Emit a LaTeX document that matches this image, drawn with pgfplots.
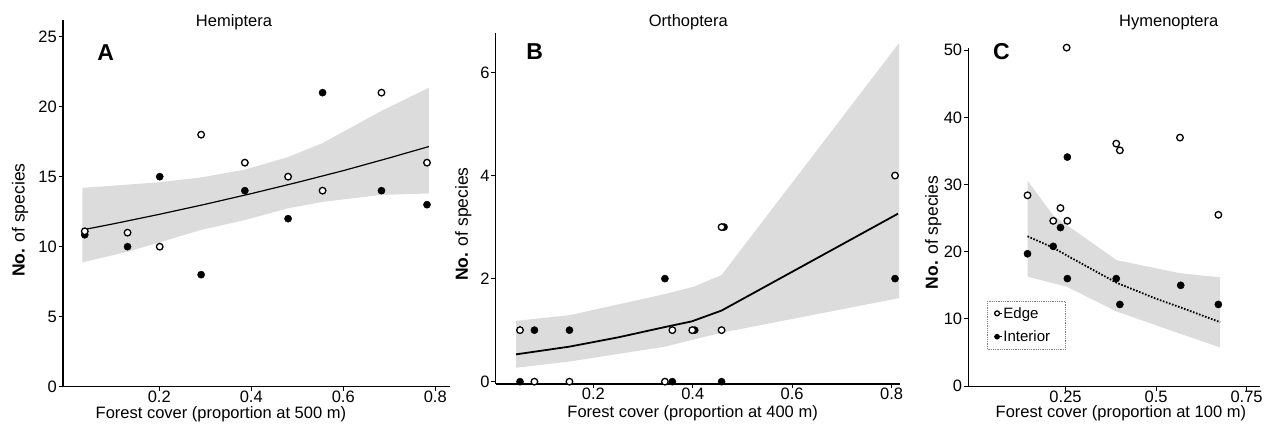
\documentclass[border=0pt]{standalone}
\usepackage{fontspec}
\setmainfont{Liberation Sans}
\usepackage{pgfplots}
\pgfplotsset{compat=1.18}
\definecolor{band}{RGB}{220,220,220}
\pgfplotsset{
  panel/.style={
    scale only axis,
    clip=false,
    axis x line*=bottom,
    axis y line*=left,
    axis line style={-, line width=1.4pt, black},
    tick align=outside,
    major tick length=4.5pt,
    tick style={line width=1pt, black},
    /pgf/number format/assume math mode=true,
    ticklabel style={font=\fontsize{16.5}{18}\selectfont},
    yticklabel style={inner sep=1.5pt},
    xticklabel style={inner sep=0.8pt, yshift=1.5pt},
    label style={font=\fontsize{16.5}{18}\selectfont},
    ylabel style={font=\fontsize{17.5}{19}\selectfont, rotate=0, anchor=center},
    xlabel style={anchor=center, inner sep=0pt},
  },
  edgept/.style={only marks, mark=*, mark size=3.3pt, mark options={solid, fill=white, draw=black, line width=1.3pt}},
  intpt/.style={only marks, mark=*, mark size=3.6pt, mark options={solid, fill=black, draw=black}},
}
\begin{document}
\begin{tikzpicture}
\useasboundingbox (0,0) rectangle (1276pt,430pt);

% ---------------- A ----------------
\begin{axis}[panel,
  at={(63pt,43.3pt)}, anchor=south west,
  width=387pt, height=366.7pt,
  xmin=-0.0093, xmax=0.832, ymin=0, ymax=26.19,
  xtick={0.2,0.4,0.6,0.8}, xticklabels={0.2,0.4,0.6,0.8},
  ytick={0,5,10,15,20,25},
  xlabel={Forest cover (proportion at 500 m)},
  xlabel style={at={(axis description cs:0.408,0)}, yshift=-27.5pt},
  ylabel={\textbf{No.} of species},
  ylabel style={at={(axis description cs:-0.111,0.454)}},
]
\addplot[fill=band, draw=none, forget plot] coordinates {
 (0.033,14.2) (0.2,14.6) (0.291,14.95) (0.386,15.5) (0.48,16.4) (0.555,17.4) (0.683,19.7) (0.786,21.35)
 (0.786,13.8) (0.683,13.7) (0.555,13.2) (0.48,12.74) (0.386,11.9) (0.291,11.2) (0.2,10.3) (0.131,9.64) (0.033,8.88)
} -- cycle;
\addplot[black, line width=1.2pt, forget plot] coordinates {
 (0.033,11.2) (0.1,11.63) (0.2,12.31) (0.3,13.03) (0.4,13.79) (0.5,14.59) (0.6,15.43) (0.7,16.34) (0.786,17.15)
};
\addplot[intpt] coordinates {
 (0.038,10.85) (0.131,10) (0.201,15) (0.291,8) (0.386,14) (0.480,12) (0.555,21) (0.683,14) (0.782,13)
};
\addplot[edgept] coordinates {
 (0.038,11.1) (0.131,11) (0.201,10) (0.291,18) (0.386,16) (0.480,15) (0.555,14) (0.683,21) (0.782,16)
};
\end{axis}

% ---------------- B ----------------
\begin{axis}[panel,
  at={(495.7pt,46pt)}, anchor=south west,
  width=404.3pt, height=350.7pt,
  xmin=0.0036, xmax=0.817, ymin=-0.045, ymax=6.76,
  xtick={0.2,0.4,0.6,0.8}, xticklabels={0.2,0.4,0.6,0.8},
  ytick={0,2,4,6},
  xlabel={Forest cover (proportion at 400 m)},
  xlabel style={at={(axis description cs:0.487,0)}, yshift=-28.8pt},
  ylabel={\textbf{No.} of species},
  ylabel style={at={(axis description cs:-0.08,0.456)}},
]
\addplot[fill=band, draw=none, forget plot] coordinates {
 (0.0445,1.18) (0.152,1.29) (0.344,1.70) (0.401,1.84) (0.458,2.07) (0.815,6.57)
 (0.815,1.62) (0.458,0.95) (0.344,0.68) (0.152,0.39) (0.0445,0.27)
} -- cycle;
\addplot[black, line width=1.8pt, forget plot] coordinates {
 (0.0445,0.53) (0.152,0.68) (0.25,0.86) (0.344,1.06) (0.398,1.17) (0.458,1.38) (0.813,3.26)
};
\addplot[intpt] coordinates {
 (0.0525,0) (0.0815,1) (0.152,1) (0.344,2) (0.359,0) (0.404,1) (0.458,0) (0.463,3) (0.807,2)
};
\addplot[edgept] coordinates {
 (0.0525,1) (0.0815,0) (0.152,0) (0.344,0) (0.359,1) (0.399,1) (0.458,1) (0.458,3) (0.807,4)
};
\end{axis}

% ---------------- C ----------------
\begin{axis}[panel,
  at={(968.3pt,43.3pt)}, anchor=south west,
  width=291.7pt, height=338.4pt,
  xmin=-0.0185, xmax=0.787, ymin=-0.1, ymax=50.3,
  xtick={0.25,0.5,0.75}, xticklabels={0.25,0.5,0.75},
  ytick={0,10,20,30,40,50},
  xlabel={Forest cover (proportion at 100 m)},
  xlabel style={at={(axis description cs:0.523,0)}, yshift=-27pt},
  ylabel={\textbf{No.} of species},
  ylabel style={at={(axis description cs:-0.12,0.456)}},
  legend style={at={(0.065,0.1105)}, anchor=south west,
    draw=gray, densely dotted, line width=0.8pt, fill=white,
    font=\fontsize{15}{17}\selectfont, inner xsep=6pt, inner ysep=4pt, row sep=7pt,
    cells={anchor=west}},
  legend image code/.code={\path (-1pt,0pt) -- (7pt,0pt); \draw[#1, mark size=2.4pt] plot coordinates {(2pt,0pt)};},
  legend style={nodes={text width=55pt, inner xsep=1pt}},
]
\addplot[fill=band, draw=none, forget plot] coordinates {
 (0.145,30.6) (0.216,25.4) (0.253,24.0) (0.391,18.75) (0.566,16.8) (0.677,16.2)
 (0.677,5.75) (0.566,7.8) (0.391,11.1) (0.253,14.8) (0.216,15.3) (0.145,16.3)
} -- cycle;
\addplot[black, line width=1.8pt, dash pattern=on 1.6pt off 1.6pt, forget plot] coordinates {
 (0.145,22.3) (0.216,20.6) (0.255,19.4) (0.39,15.4) (0.5,13.0) (0.568,11.7) (0.677,9.5)
};
\addplot[edgept] coordinates {
 (0.145,28.4) (0.216,24.6) (0.236,26.5) (0.255,24.6) (0.253,50.4) (0.390,36.1) (0.400,35.1) (0.566,37.0) (0.672,25.5)
};
\addlegendentry{Edge}
\addplot[intpt] coordinates {
 (0.145,19.7) (0.216,20.8) (0.236,23.6) (0.255,34.1) (0.255,16.0) (0.390,16.0) (0.400,12.15) (0.568,15.0) (0.672,12.15)
};
\addlegendentry{Interior}
\end{axis}

% titles and panel letters
\node[anchor=base, font=\fontsize{16.5}{18}\selectfont] at (234pt,403.3pt) {Hemiptera};
\node[anchor=base, font=\fontsize{16.5}{18}\selectfont] at (688.3pt,403.3pt) {Orthoptera};
\node[anchor=base, font=\fontsize{16.5}{18}\selectfont] at (1168.7pt,403.3pt) {Hymenoptera};
\node[anchor=base, font=\bfseries\fontsize{23}{25}\selectfont] at (105.8pt,369.3pt) {A};
\node[anchor=base, font=\bfseries\fontsize{23}{25}\selectfont] at (534.7pt,370pt) {B};
\node[anchor=base, font=\bfseries\fontsize{23}{25}\selectfont] at (1001.3pt,370pt) {C};
\end{tikzpicture}
\end{document}
